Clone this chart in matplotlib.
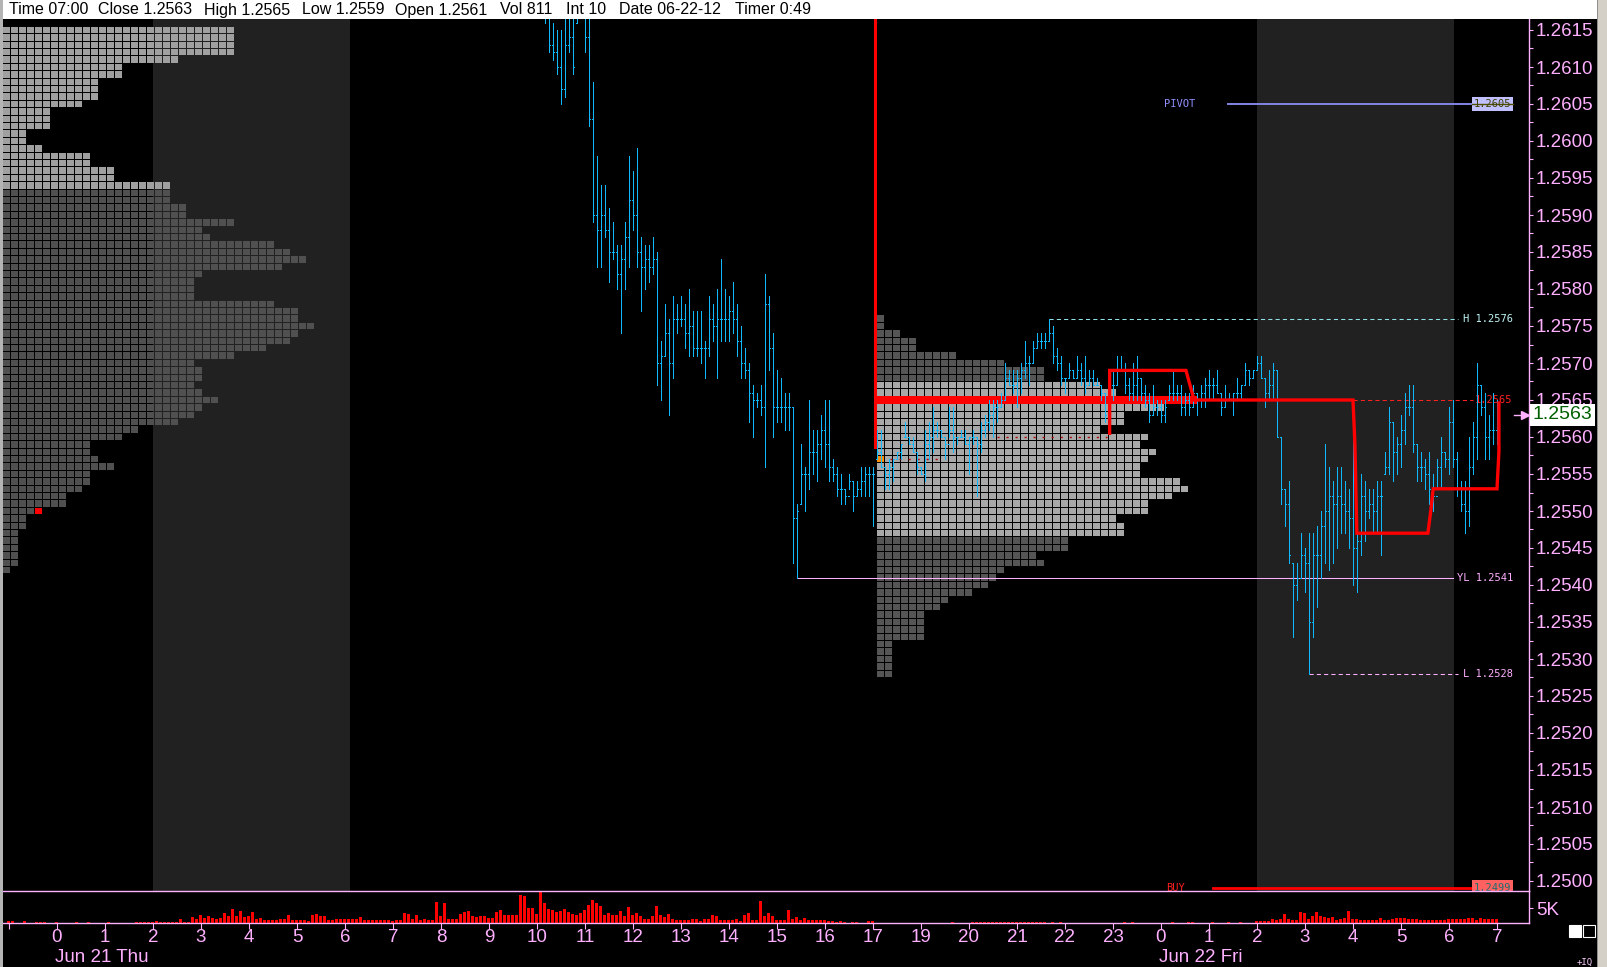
import numpy as np
import matplotlib.pyplot as plt
from matplotlib.collections import LineCollection
from matplotlib.patches import Rectangle

plt.rcParams['font.family'] = ['Liberation Sans', 'DejaVu Sans']

W, H = 1607, 967
BASE, PIP = 1.2500, 0.0001

# ---------------- data ----------------
header_text = ["Time 07:00", "Close 1.2563", "High 1.2565", "Low 1.2559", "Open 1.2561",
               "Vol 811", "Int 10", "Date 06-22-12", "Timer 0:49"]
header_x = [9, 98, 204, 302, 395, 500, 566, 619, 735]

# hour slots 0..30 on the compressed time axis (one slot = one hour of bars)
hour_labels = ['0', '1', '2', '3', '4', '5', '6', '7', '8', '9', '10', '11', '12', '13', '14',
               '15', '16', '17', '19', '20', '21', '22', '23', '0', '1', '2', '3', '4', '5', '6', '7']
day_labels = ["Jun 21 Thu", "Jun 22 Fri"]
day_label_slot = [0, 23]

# shaded sessions (slot start, slot end)
shade_start = [2.0, 25.0]
shade_end = [6.1, 29.1]

# 5 minute OHLC bars, pips above 1.2500, first visible bar at 10:10 (Jun 21)
bar_hi = [118, 118, 116, 115, 115, 118, 118, 118, 118, 119, 118, 118, 108, 98, 94, 94, 91, 89, 86, 86,
          89, 98, 96, 99, 87, 86, 86, 87, 85, 73, 78, 76, 79, 78, 79, 78, 80, 77, 77, 77,
          73, 79, 78, 80, 84, 80, 79, 81, 78, 75, 72, 70, 67, 66, 67, 82, 79, 74, 69, 68,
          66, 66, 64, 51, 59, 56, 65, 61, 61, 63, 65, 65, 57, 56, 55, 53, 55, 54, 54, 56,
          56, 56, 56, 61, 61, 56, 57, 57, 58, 59, 62, 60, 60, 58, 56, 61, 62, 64, 62, 61,
          60, 64, 64, 60, 61, 61, 60, 61, 60, 62, 63, 65, 65, 65, 66, 70, 69, 69, 69, 70,
          73, 71, 73, 74, 74, 74, 76, 75, 72, 71, 68, 70, 69, 71, 70, 71, 69, 69, 68, 67,
          66, 69, 69, 71, 71, 70, 68, 70, 71, 68, 67, 66, 67, 65, 65, 65, 67, 69, 67, 67,
          66, 66, 67, 66, 67, 68, 69, 68, 69, 66, 67, 66, 66, 68, 67, 70, 69, 69, 71, 71,
          68, 69, 70, 69, 60, 53, 54, 43, 43, 47, 45, 47, 47, 48, 50, 59, 56, 54, 56, 56,
          54, 53, 60, 49, 55, 54, 53, 53, 54, 54, 58, 64, 62, 60, 63, 66, 67, 67, 59, 58,
          57, 58, 55, 57, 60, 58, 64, 65, 58, 54, 54, 60, 62, 70, 67, 66, 63, 66, 65]
bar_lo = [116, 112, 111, 109, 105, 106, 112, 109, 116, 117, 112, 102, 89, 83, 83, 87, 81, 84, 80, 74,
          80, 83, 88, 83, 77, 80, 81, 82, 67, 65, 71, 63, 68, 74, 75, 72, 71, 71, 71, 70,
          68, 71, 73, 68, 73, 73, 73, 74, 71, 68, 68, 62, 60, 64, 63, 56, 69, 60, 62, 62,
          61, 61, 43, 41, 51, 50, 53, 55, 54, 57, 56, 54, 54, 52, 51, 51, 53, 50, 52, 52,
          52, 52, 48, 57, 56, 53, 53, 54, 57, 57, 60, 59, 58, 55, 55, 54, 57, 58, 60, 60,
          57, 60, 58, 59, 60, 59, 55, 59, 52, 58, 60, 61, 60, 62, 64, 65, 67, 66, 64, 66,
          68, 67, 70, 72, 72, 72, 73, 70, 69, 67, 66, 68, 68, 68, 67, 66, 67, 67, 67, 65,
          62, 63, 65, 67, 69, 66, 65, 65, 65, 65, 64, 62, 63, 63, 62, 62, 65, 65, 65, 63,
          63, 63, 64, 63, 64, 64, 65, 65, 66, 63, 64, 65, 63, 65, 65, 67, 67, 68, 69, 68,
          64, 65, 65, 60, 51, 48, 43, 33, 38, 41, 39, 28, 33, 37, 41, 43, 42, 43, 45, 47,
          47, 45, 40, 39, 44, 46, 49, 47, 47, 44, 55, 55, 54, 55, 56, 59, 63, 58, 54, 54,
          53, 51, 50, 53, 53, 56, 55, 56, 52, 50, 47, 48, 55, 57, 63, 57, 57, 59, 59]
bar_open = [118, 117, 113, 112, 110, 107, 113, 114, 116, 117, 118, 114, 103, 90, 88, 90, 88, 85, 85, 82,
            84, 87, 92, 90, 85, 83, 84, 83, 84, 70, 71, 74, 70, 76, 76, 76, 74, 75, 72, 72,
            72, 72, 76, 75, 76, 76, 76, 77, 76, 73, 70, 69, 66, 65, 65, 64, 78, 72, 64, 64,
            64, 64, 64, 49, 51, 55, 55, 58, 58, 59, 61, 59, 56, 55, 53, 53, 52, 54, 52, 53,
            54, 55, 55, 57, 58, 56, 55, 56, 57, 58, 60, 60, 59, 58, 56, 55, 59, 60, 61, 61,
            60, 59, 61, 60, 60, 60, 59, 60, 60, 59, 61, 62, 63, 64, 64, 65, 68, 67, 67, 68,
            69, 70, 70, 72, 73, 73, 73, 74, 71, 70, 68, 68, 69, 68, 69, 68, 67, 68, 67, 67,
            66, 63, 67, 67, 69, 69, 67, 66, 67, 68, 66, 65, 63, 64, 64, 63, 65, 66, 66, 66,
            64, 65, 64, 66, 65, 66, 67, 67, 67, 66, 64, 65, 65, 66, 66, 67, 69, 68, 69, 70,
            68, 66, 67, 69, 60, 53, 51, 43, 40, 41, 44, 43, 35, 44, 44, 48, 50, 52, 51, 52,
            51, 50, 49, 45, 46, 52, 50, 51, 50, 52, 55, 56, 62, 58, 59, 61, 64, 64, 59, 56,
            56, 55, 53, 52, 56, 58, 57, 62, 57, 53, 51, 50, 56, 60, 67, 64, 60, 61, 61]
bar_close = [117, 113, 112, 110, 107, 113, 114, 110, 117, 118, 114, 103, 90, 88, 90, 88, 85, 85, 82, 84,
             87, 92, 90, 85, 83, 84, 83, 84, 70, 71, 74, 70, 76, 76, 76, 74, 75, 72, 72, 72,
             72, 76, 75, 76, 76, 76, 77, 76, 73, 70, 69, 66, 65, 65, 64, 78, 72, 64, 64, 64,
             64, 64, 49, 50, 55, 55, 58, 58, 59, 61, 59, 56, 55, 53, 53, 52, 54, 52, 53, 54,
             55, 55, 55, 58, 56, 55, 56, 57, 58, 59, 60, 59, 58, 56, 55, 59, 60, 61, 61, 60,
             59, 61, 60, 60, 60, 59, 60, 60, 59, 61, 62, 63, 64, 64, 65, 68, 67, 67, 68, 69,
             70, 70, 72, 73, 73, 73, 74, 71, 70, 68, 68, 69, 68, 69, 68, 67, 68, 67, 67, 66,
             63, 67, 67, 69, 69, 67, 66, 67, 68, 66, 65, 63, 64, 64, 63, 64, 66, 66, 66, 64,
             65, 64, 66, 65, 66, 67, 67, 67, 66, 64, 65, 65, 66, 66, 67, 69, 68, 69, 70, 68,
             66, 67, 69, 60, 53, 51, 44, 40, 41, 44, 43, 35, 44, 44, 48, 50, 52, 51, 52, 51,
             50, 49, 45, 46, 52, 50, 51, 50, 52, 52, 56, 62, 58, 59, 61, 64, 64, 59, 56, 56,
             55, 53, 52, 56, 58, 57, 62, 57, 53, 51, 50, 56, 60, 67, 64, 60, 61, 61, 63]
bar_first_slot = 10 + 2 / 12

# volume per 5 minute bar, starting at 23:00 Jun 20 (slot -1)
volume = [570, 570, 0, 0, 570, 0, 0, 430, 430, 430, 0, 0, 430, 0, 0, 0, 0, 430, 0, 0,
          430, 0, 0, 0, 0, 430, 0, 0, 0, 0, 0, 0, 430, 430, 430, 430, 430, 770, 500, 500,
          500, 500, 500, 1230, 500, 500, 1900, 1330, 2570, 1670, 2230, 1670, 1330, 1670, 3330, 2230, 4570, 2230, 3900, 2000,
          2230, 3570, 1330, 1670, 1100, 1100, 900, 1100, 1430, 1430, 2570, 1100, 1100, 1100, 1100, 570, 2570, 2900, 2230, 2430,
          1100, 900, 1430, 1230, 1230, 1230, 1230, 1230, 1900, 1100, 1100, 900, 900, 1100, 1100, 1100, 570, 900, 1100, 3330,
          3100, 1430, 2570, 1100, 1430, 1100, 1100, 6900, 2230, 6670, 1430, 1430, 1430, 3100, 3670, 3900, 2230, 2000, 2230, 2230,
          1670, 1670, 3570, 4230, 2570, 2570, 2570, 2570, 9230, 9100, 5100, 5000, 2900, 10330, 6770, 4670, 4230, 3770, 4000, 4570,
          3670, 3100, 2570, 3430, 4430, 5900, 7770, 6670, 5670, 2570, 3330, 2570, 2570, 3900, 2230, 5230, 2570, 3330, 2230, 1430,
          1430, 2230, 5670, 2570, 2000, 3100, 1430, 1100, 1100, 1100, 1100, 1430, 1430, 770, 1230, 1430, 2570, 2230, 1100, 900,
          1100, 1100, 1430, 570, 2570, 3330, 900, 900, 7230, 2230, 3330, 2430, 1100, 1100, 900, 4230, 1430, 1900, 900, 1670,
          900, 900, 900, 1100, 900, 570, 570, 330, 570, 330, 0, 330, 330, 0, 0, 770, 570, 0, 0, 0,
          0, 0, 0, 0, 0, 0, 0, 0, 0, 0, 0, 0, 0, 0, 0, 0, 330, 0, 0, 0,
          0, 330, 330, 330, 330, 330, 330, 330, 330, 330, 330, 330, 330, 330, 330, 330, 330, 330, 330, 330,
          0, 330, 0, 330, 0, 0, 0, 0, 0, 0, 0, 0, 0, 0, 0, 0, 0, 0, 0, 330,
          0, 330, 0, 0, 0, 0, 0, 0, 0, 0, 0, 330, 0, 0, 0, 330, 330, 0, 0, 0,
          0, 330, 0, 0, 0, 330, 0, 0, 330, 0, 0, 0, 570, 570, 570, 570, 1330, 1100, 1430, 2900,
          1330, 900, 900, 3670, 3330, 1430, 2230, 3670, 2230, 2000, 1670, 2000, 1100, 1330, 1670, 3900, 1430, 1430, 1100, 900,
          900, 1100, 900, 1670, 1100, 900, 1170, 1770, 1770, 1670, 1430, 1330, 1330, 900, 900, 1100, 1100, 1100, 1100, 900,
          1330, 1330, 1330, 1430, 1430, 1770, 1770, 1100, 1770, 1430, 1330, 1330, 1430]
vol_first_slot = -1.0

# Jun 21 profile: one row per pip from 1.2615 down
left_top_pips = 115
left_counts = [29, 29, 29, 29, 22, 15, 15, 12, 12, 12, 10, 6, 6, 6, 3, 3, 5, 11, 11, 14, 14, 21,
               21, 21, 23, 23, 29, 25, 26, 34, 36, 38, 35, 25, 24, 24, 24, 34, 37, 37, 39, 37, 36, 33,
               29, 24, 25, 25, 24, 25, 27, 25, 24, 22, 17, 15, 11, 11, 12, 14, 11, 11, 10, 8, 8, 4,
               3, 3, 2, 2, 2, 2, 2, 1]
left_kind = 'L' * 22 + 'D' * 52
left_open_row, left_open_col = 65, 4

# Jun 22 profile: one row per pip from 1.2576 down
mid_top_pips = 76
mid_counts = [1, 1, 3, 5, 5, 10, 16, 21, 21, 28, 30, 40, 36, 31, 31, 28, 34, 33, 35, 34, 33, 33, 38, 39, 37,
              34, 34, 30, 31, 31, 24, 24, 20, 21, 16, 15, 14, 12, 9, 8, 6, 6, 6, 6, 2, 2, 2, 2, 2]
mid_kind = 'D' * 9 + 'L' * 2 + 'R' + 'L' * 18 + 'D' * 19
mid_open_row, mid_open_col = 19, 0
mid_start_slot = 17 + 1 / 12

# developing level (red step line)
step_slot = [21.93, 21.93, 23.52, 23.69, 27.0, 27.04, 27.08, 28.56, 28.62, 28.67, 30.0, 30.04, 30.04]
step_pips = [60.5, 69, 69, 65, 65, 59, 47, 47, 50, 53, 53, 58, 64.6]
session_slot, session_low_pips = 17.04, 58.6

pivot, hi_day, lo_day, y_low, naked, buy = 1.2605, 1.2576, 1.2528, 1.2541, 1.2565, 1.2499
hi_bar, lo_bar, yl_bar = 126, 191, 63
dash_lvls = [1.2557, 1.2560]
dash_from = [17.35, 19.58]
dash_to = [18.46, 21.88]
last_close = 1.2563

# ---------------- drawing ----------------
PINK = '#ffb0ff'
CYAN = '#10b8ff'
PX_PER_PRICE = 74000.0

fig = plt.figure(figsize=(W / 100, H / 100), dpi=100, facecolor='black')


def fx(px):
    return px / W


def fy(py):
    return 1 - py / H


ax = fig.add_axes([fx(3), fy(891), 1526 / W, 872 / H])
axv = fig.add_axes([fx(3), fy(923), 1526 / W, 32 / H])
for a in (ax, axv):
    a.set_facecolor('black')
    a.set_xlim(-1.125, 30.6667)
ax.set_ylim(1.2615 - 861 / PX_PER_PRICE, 1.2615 + 11 / PX_PER_PRICE)

for a, b in zip(shade_start, shade_end):
    ax.axvspan(a, b, color='#212121', lw=0, zorder=0)

# profiles
CW, GX, GY = 1 / 6, 1 / 48, 1 / PX_PER_PRICE
kind_col = {'L': '#a0a0a0', 'D': '#505050', 'R': '#ff0000'}
mid_col = {'L': '#a8a8a8', 'D': '#555555', 'R': '#ff0000'}


def draw_profile(x0, top_pips, counts, kinds, cols):
    for r, (n, k) in enumerate(zip(counts, kinds)):
        p = BASE + (top_pips - r) * PIP
        if k == 'R':
            # point of control drawn as a solid band
            ax.broken_barh([(x0, n * CW)], (p - PIP / 2, PIP), facecolors=cols[k],
                           linewidth=0, antialiased=False, zorder=1.2)
            continue
        ax.broken_barh([(x0 + j * CW, CW - GX) for j in range(n)],
                       (p - PIP / 2 + GY / 2, PIP - GY), facecolors=cols[k],
                       linewidth=0, antialiased=False, zorder=1)


draw_profile(-1.125, left_top_pips, left_counts, left_kind, kind_col)
draw_profile(mid_start_slot, mid_top_pips, mid_counts, mid_kind, mid_col)
p = BASE + (left_top_pips - left_open_row) * PIP
ax.broken_barh([(-1.125 + left_open_col * CW, CW - GX)], (p - PIP / 2 + GY / 2, PIP - GY),
               facecolors='#ff0000', linewidth=0, antialiased=False, zorder=1.5)
p = BASE + (mid_top_pips - mid_open_row) * PIP
ax.broken_barh([(mid_start_slot + mid_open_col * CW, CW - GX)], (p - PIP / 2 + GY / 2, PIP - GY),
               facecolors='#ff8c00', linewidth=0, antialiased=False, zorder=1.5)

# reference levels
bar_slot = bar_first_slot + np.arange(len(bar_hi)) / 12
ax.plot([bar_slot[hi_bar], 29.19], [hi_day] * 2, color='#90e0e8', lw=0.75, ls=(0, (4, 3)), zorder=2)
ax.plot([bar_slot[lo_bar], 29.19], [lo_day] * 2, color=PINK, lw=0.75, ls=(0, (4, 3)), zorder=2)
ax.plot([bar_slot[yl_bar], 29.08], [y_low] * 2, color=PINK, lw=0.75, zorder=2)
ax.plot([27.0, 29.5], [naked] * 2, color='#ff2020', lw=0.75, ls=(0, (4, 3)), zorder=2)
ax.plot([24.4, 29.48], [pivot] * 2, color='#8484e6', lw=1.4, zorder=2)
for lvl, a0, a1 in zip(dash_lvls, dash_from, dash_to):
    ax.plot([a0, a1], [lvl] * 2, color='#b00000', lw=1.0, ls=(0, (1.5, 5)), zorder=2)

mono = 'DejaVu Sans Mono'
ax.text(29.29, hi_day, 'H 1.2576', color='#c0f6f6', fontsize=7.5, family=mono, va='center', zorder=5)
ax.text(29.29, lo_day, 'L 1.2528', color=PINK, fontsize=7.5, family=mono, va='center', zorder=5)
ax.text(29.17, y_low, 'YL 1.2541', color=PINK, fontsize=7.5, family=mono, va='center', zorder=5)
ax.text(29.54, naked, '1.2565', color='#ff2020', fontsize=7.5, family=mono, va='center', zorder=2.5)
ax.text(23.06, pivot, 'PIVOT', color='#9090ff', fontsize=7.5, family=mono, va='center', zorder=5)
ax.add_patch(Rectangle((29.48, pivot - 0.0001), 0.85, 0.0002, fc='#c0c0ff', ec='none', zorder=5))
ax.plot([29.48, 30.33], [pivot] * 2, color='#505000', lw=1, zorder=5)
ax.text(29.905, pivot, '1.2605', color='#404000', fontsize=7.5, family=mono, ha='center', va='center', zorder=6)

# BUY line at the bottom
ax.plot([24.08, 29.48], [buy] * 2, color='#ff0000', lw=2, zorder=4)
ax.add_patch(Rectangle((29.48, buy - 0.0002), 0.85, 0.00031, fc='#ff6060', ec='none', zorder=5))
ax.text(29.905, buy, '1.2499', color='#1e6e6e', fontsize=7.5, family=mono, ha='center', va='center', zorder=6)
ax.text(23.1, buy, 'BUY', color='#ff2020', fontsize=7.5, family=mono, va='center', zorder=6)

# OHLC bars
pr = lambda v: BASE + np.asarray(v, dtype=float) * PIP
hi, lo, op, cl = pr(bar_hi), pr(bar_lo), pr(bar_open), pr(bar_close)
tk = 1.2 / 48
segs = []
for x, h, l, o, c in zip(bar_slot, hi, lo, op, cl):
    segs.append([(x, l), (x, h)])
    segs.append([(x - tk, o), (x, o)])
    segs.append([(x, c), (x + tk, c)])
ax.add_collection(LineCollection(segs, colors=CYAN, linewidths=0.72, antialiased=False, zorder=3))

# red lines
ax.plot([session_slot] * 2, [1.2617, BASE + session_low_pips * PIP], color='#ff0000', lw=2.2, zorder=4)
ax.plot(step_slot, pr(step_pips), color='#ff0000', lw=2.4, zorder=4, solid_joinstyle='miter')

# last price marker on the axis
ax.plot([30.36, 30.6], [last_close] * 2, color=PINK, lw=1, zorder=6)
ax.plot([30.58], [last_close], marker='>', ms=6, color=PINK, zorder=6)
ax.text(1.0026, last_close, '1.2563', transform=ax.get_yaxis_transform(), color='#006000',
        fontsize=14, va='center', ha='left', clip_on=False, zorder=10,
        bbox=dict(boxstyle='square,pad=0.14', fc='white', ec='none'))

# price axis
for s in ('left', 'top', 'bottom'):
    ax.spines[s].set_visible(False)
ax.spines['right'].set_color(PINK)
ax.spines['right'].set_linewidth(1)
ax.yaxis.tick_right()
yt = np.round(np.arange(1.2500, 1.26151, 0.0005), 4)
ax.set_yticks(yt)
ax.set_yticklabels([f'{v:.4f}' for v in yt])
ax.set_yticks(yt[:-1] + 0.00025, minor=True)
ax.tick_params(axis='y', which='both', colors=PINK, direction='out', length=3, width=0.8,
               labelsize=13.5, pad=2)
ax.tick_params(axis='x', which='both', bottom=False, labelbottom=False)

# volume panel
vol_slot = vol_first_slot + np.arange(len(volume)) / 12
axv.bar(vol_slot, volume, width=3 / 48, color='#ff0000', linewidth=0, antialiased=False)
axv.set_ylim(0, 10670)
axv.spines['left'].set_visible(False)
for s in ('top', 'bottom', 'right'):
    axv.spines[s].set_color(PINK)
    axv.spines[s].set_linewidth(1)
axv.yaxis.tick_right()
axv.set_yticks([5000])
axv.set_yticklabels(['5K'])
axv.set_xticks(np.arange(-1, 31))
axv.set_xticklabels([''] + hour_labels)
axv.tick_params(axis='y', colors=PINK, direction='out', length=3, width=0.8, labelsize=13.5, pad=2)
axv.tick_params(axis='x', colors=PINK, direction='out', length=4, width=0.8, labelsize=13.5, pad=0.5)

for lab, s in zip(day_labels, day_label_slot):
    fig.text(fx(57 + 48 * s - 2), fy(957), lab, color=PINK, fontsize=13.5, va='center', ha='left')

# window chrome
fig.add_artist(Rectangle((fx(3), fy(19)), 1594 / W, 19 / H, transform=fig.transFigure,
                         fc='white', ec='none'))
fig.add_artist(Rectangle((0, 0), 3 / W, 1, transform=fig.transFigure, fc='#b4b4b4', ec='none'))
fig.add_artist(Rectangle((fx(1597), 0), 10 / W, 1, transform=fig.transFigure, fc='#d4d0c8', ec='none'))
fig.add_artist(Rectangle((fx(1597), 0), 1 / W, 1, transform=fig.transFigure, fc='#909090', ec='none'))
for t, x in zip(header_text, header_x):
    fig.text(fx(x), fy(10), t, color='black', fontsize=11.5, va='center', ha='left')
fig.add_artist(Rectangle((fx(1569), fy(937)), 12 / W, 12 / H, transform=fig.transFigure,
                         fc='white', ec='white', lw=0.8))
fig.add_artist(Rectangle((fx(1583), fy(937)), 12 / W, 12 / H, transform=fig.transFigure,
                         fc='none', ec='white', lw=0.8))
fig.text(fx(1577), fy(962), '+IQ', color='#ffd0ff', fontsize=6.5, family=mono, va='center')

fig.savefig('out.png', dpi=100, facecolor='black')
